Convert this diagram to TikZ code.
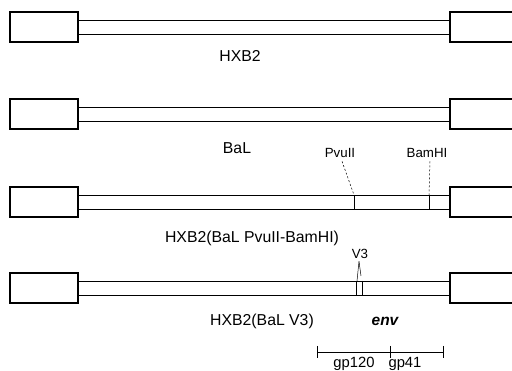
\documentclass[tikz,border=0pt]{standalone}
\usepackage{fontspec}
\setmainfont{Liberation Sans}
\begin{document}
\begin{tikzpicture}[x=1pt,y=-1pt,
  endbox/.style={draw=black,line width=1.3pt},
  tube/.style={draw=black,line width=0.9pt},
  thin/.style={draw=black,line width=0.5pt},
  lab/.style={anchor=base,inner sep=0pt,font=\fontsize{15.8}{15.8}\selectfont},
  small/.style={anchor=base,inner sep=0pt,font=\fontsize{13.3}{13.3}\selectfont},
  leader/.style={draw=black,line width=0.5pt,dashed,dash pattern=on 2pt off 2pt}]
\useasboundingbox (0,0) rectangle (512,371);
\clip (0,0) rectangle (512,371);
% rows
\foreach \c in {27,114,202,288}{
  \draw[endbox] (10,\c-15) rectangle (78,\c+15);
  \draw[endbox] (450,\c-15) rectangle (520,\c+15);
}
% row 1 and 2, 4 tubes
\foreach \c in {27,114,288}{
  \draw[tube] (78,\c-7) -- (450,\c-7);
  \draw[tube] (78,\c+7) -- (450,\c+7);
}
% row 3
\draw[tube] (78,195) -- (354,195) (78,209) -- (354,209);
\draw[thin] (354,195) -- (429,195) (354,209) -- (429,209);
\draw[tube] (429,195) -- (450,195) (429,209) -- (450,209);
\draw[thin] (354,195) -- (354,209);
\draw[thin] (429,195) -- (429,209);
% row 4 V3 slit
\draw[thin] (356,281) -- (356,295);
\draw[thin] (362,281) -- (362,295);
% labels
\node[lab] (hxb2) at (240,62) {HXB2};
\node[lab] (bal) at (237,154) {BaL};
\node[small] (pvu) at (340,158) {PvuII};
\node[small] (bam) at (427,158) {BamHI};
\node[lab] (chim1) at (252,243) {HXB2(BaL PvuII-BamHI)};
\node[small] (v3) at (360,259) {V3};
\node[lab] (chim2) at (262,326) {HXB2(BaL V3)};
\node[lab,font=\fontsize{15.5}{15.5}\selectfont\bfseries\itshape] (env) at (385,326) {env};
\coordinate (pvucut) at (354,195);
\coordinate (bamcut) at (429,195);
\coordinate (v3a) at (357,281);
\coordinate (v3b) at (361,276);
\draw[leader] (pvu.south) ++(2,3) -- (pvucut);
\draw[leader] (bam.south) ++(3,3) -- (bamcut);
\draw[thin] (v3.south) ++(-1,2) coordinate (v3top) -- (v3a);
\draw[thin] (v3top) -- (v3b);
% scale bar
\coordinate (s1) at (317,352);
\coordinate (s2) at (390,352);
\coordinate (s3) at (443,352);
\draw[thin,line width=0.8pt] (s1) -- (s3);
\draw[thin,line width=0.8pt] (317,346) -- (317,358);
\draw[thin] (390,346) -- (390,358);
\draw[thin,line width=0.8pt] (443,346) -- (443,358);
\node[lab,font=\fontsize{14.8}{14.8}\selectfont] (gp120) at (354,368) {gp120};
\node[lab,font=\fontsize{14.8}{14.8}\selectfont] (gp41) at (405,368) {gp41};
\end{tikzpicture}
\end{document}
